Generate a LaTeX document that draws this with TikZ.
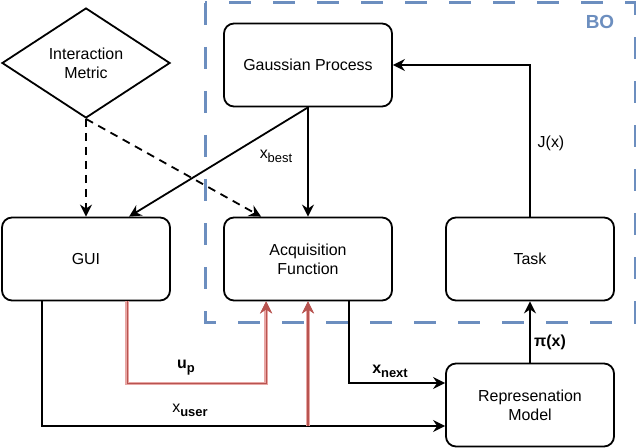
\documentclass[tikz,border=0pt]{standalone}
\usepackage{fontspec}
\setmainfont{Liberation Sans}
\usetikzlibrary{shapes.geometric,arrows.meta,calc}
\definecolor{boblue}{HTML}{6C8EBF}
\definecolor{redd}{HTML}{B85450}
\definecolor{redl}{HTML}{E8A6A4}
\newcommand\mysub[1]{\raisebox{-4bp}{\fontsize{13}{13}\selectfont #1}}
\begin{document}
\begin{tikzpicture}[x=1bp,y=-1bp,
  every node/.style={font=\fontsize{16}{19}\selectfont},
  box/.style={draw,line width=1.8bp,rounded corners=10bp,minimum width=168bp,minimum height=83bp,align=center,inner sep=0pt},
  dia/.style={draw,line width=1.8bp,diamond,aspect=1.53,minimum width=168bp,minimum height=110bp,inner sep=0pt,align=center},
  tip/.style={-{Stealth[length=12bp,width=12bp,inset=4bp]}},
  arr/.style={tip,line width=1.8bp},
  dasharr/.style={tip,line width=1.8bp,dash pattern=on 8bp off 6bp},
  redarr/.style={-{Stealth[length=12bp,width=12bp,inset=4bp,color=redd]},draw=redd,line width=1.2bp,
     preaction={draw=redl,line width=3.8bp,-{Stealth[length=12bp,width=12bp,inset=4bp,color=redd]}}},
  bo/.style={draw=boblue,line width=3bp,dash pattern=on 22bp off 22bp},
  lbl/.style={inner sep=0pt}
]
\useasboundingbox (0,0) rectangle (636,448);
\fill[white] (0,0) rectangle (636,448);

\node[dia] (im) at (86,63) {Interaction\\Metric};
\node[box] (gp) at (308,65) {Gaussian Process};
\node[box] (gui) at (86,259) {GUI};
\node[box] (acq) at (308,259) {Acquisition\\Function};
\node[box] (task) at (530,259) {Task};
\node[box] (rep) at (530,405) {Represenation\\Model};

\draw[dasharr] (im.south) -- (gui.north);
\draw[dasharr] (im.south) -- ($(acq.north west)+(38,0)$);
\draw[arr] (gp.south) -- (acq.north);
\draw[arr] (gp.south) -- ($(gui.north west)+(128,0)$);
\draw[arr] (task.north) |- (gp.east);
\draw[arr] ($(acq.south west)+(126,0)$) |- ($(rep.west)+(0,-22)$);
\draw[arr] ($(gui.south west)+(41,0)$) |- ($(rep.west)+(0,21)$);
\coordinate (xu) at ($(acq.south)+(0,125)$);
\draw[redarr] ($(gui.south west)+(126,0)$) -- ++(0,82) -| ($(acq.south west)+(43,0)$);
\draw[redarr] (xu) -- (acq.south);
\draw[arr] (rep.north) -- (task.south);

\draw[bo] (205,3) rectangle (635,322);
\node[lbl,text=boblue,font=\fontsize{19}{22}\selectfont\bfseries] (bol) at (600,22) {BO};

\node[lbl] (lxbest) at (276,156) {x\mysub{best}};
\node[lbl] (ljx) at (551,143) {J(x)};
\node[lbl,font=\fontsize{16}{19}\selectfont\bfseries] (lxnext) at (390,371) {x\mysub{next}};
\node[lbl,font=\fontsize{16}{19}\selectfont\bfseries] (lpi) at (550,342) {π(x)};
\node[lbl,font=\fontsize{16}{19}\selectfont\bfseries] (lup) at (186,368) {u\mysub{p}};
\node[lbl] (lxuser) at (190,410) {x\mysub{\bfseries user}};
\end{tikzpicture}
\end{document}
